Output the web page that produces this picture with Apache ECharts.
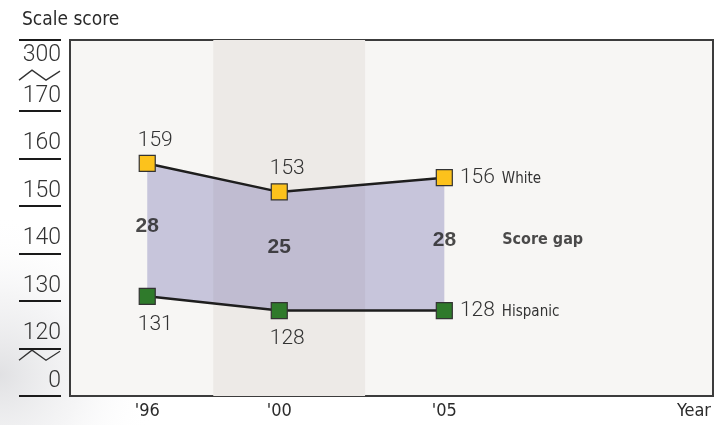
<!DOCTYPE html>
<html>
<head>
<meta charset="utf-8">
<script src="https://cdn.jsdelivr.net/npm/echarts@6/dist/echarts.min.js"></script>
<style>
  html, body { margin: 0; padding: 0; background: #ffffff; }
  #chart { width: 725px; height: 425px; }
</style>
</head>
<body>
<div id="chart"></div>
<script>
// Assessment years and their short tick labels
const years = [1996, 2000, 2005];
const yearLabels = ["'96", "'00", "'05"];

// Average scale scores by group
const white = [159, 153, 156];
const hispanic = [131, 128, 128];
// Score gap between the two groups
const gap = [28, 25, 28];

// Broken vertical scale: bottom and top ticks stand for 0 and 300
const yTickValues = [110, 120, 130, 140, 150, 160, 170, 185];
const yTickLabels = ['0', '120', '130', '140', '150', '160', '170', '300'];

const seriesNames = ['White', 'Hispanic'];
const gapName = 'Score gap';

const NARROW = '"Liberation Sans Narrow", "Arial Narrow", "DejaVu Sans Condensed", sans-serif';
const LIGHT = 'Roboto, "Liberation Sans", sans-serif';
const BOLD = '"Liberation Sans", Arial, sans-serif';
const INK = '#2b2b2b';

const chart = echarts.init(document.getElementById('chart'), null, { renderer: 'canvas' });

const last = years.length - 1;

function pointSeries(name, values, color, side) {
  return {
    name: name,
    type: 'line',
    z: 5,
    data: years.map((x, i) => {
      if (i === last) {
        return {
          value: [x, values[i]],
          label: {
            position: 'right',
            distance: 7,
            offset: [0, 0],
            formatter: '{v|' + values[i] + '}{n|' + name + '}'
          }
        };
      }
      return [x, values[i]];
    }),
    symbol: 'rect',
    symbolSize: 16,
    showAllSymbol: true,
    itemStyle: { color: color, borderColor: '#333333', borderWidth: 1.2 },
    lineStyle: { color: '#1e1e1e', width: 2.5 },
    emphasis: { disabled: true },
    label: {
      show: true,
      position: side,
      distance: side === 'top' ? 4 : 9,
      offset: [8, 0],
      formatter: p => '{v|' + values[p.dataIndex] + '}',
      rich: {
        v: { fontFamily: LIGHT, fontWeight: 300, fontSize: 21, color: '#333333' },
        n: { fontFamily: NARROW, fontSize: 15, color: '#333333', padding: [3, 0, 0, 7] }
      }
    }
  };
}

const option = {
  animation: false,
  backgroundColor: '#ffffff',
  title: {
    text: 'Scale score',
    left: 17,
    top: 6,
    textStyle: { fontFamily: NARROW, fontSize: 19, fontWeight: 'normal', color: INK }
  },
  grid: {
    left: 70, right: 12, top: 40, bottom: 29,
    show: true,
    backgroundColor: '#f7f6f4',
    borderColor: '#3c3c3c',
    borderWidth: 2
  },
  xAxis: {
    type: 'value',
    min: 1993.66,
    max: 2013.14,
    axisLine: { show: false },
    axisTick: { show: false },
    splitLine: { show: false },
    axisLabel: {
      customValues: years,
      margin: 6,
      formatter: v => yearLabels[years.indexOf(v)],
      fontFamily: NARROW, fontSize: 18, color: INK
    },
    name: 'Year',
    nameLocation: 'end',
    nameGap: -2,
    nameTextStyle: {
      fontFamily: NARROW, fontSize: 18, color: INK,
      align: 'right', verticalAlign: 'top', padding: [6, 0, 0, 0]
    }
  },
  yAxis: {
    type: 'value',
    min: 110,
    max: 185,
    offset: 9,
    axisLine: { show: false },
    splitLine: { show: false },
    axisTick: {
      show: true,
      customValues: yTickValues,
      length: 42,
      lineStyle: { color: '#1a1a1a', width: 2 }
    },
    axisLabel: {
      customValues: yTickValues,
      margin: 0,
      verticalAlign: 'middle',
      formatter: v => {
        const i = yTickValues.indexOf(v);
        if (i < 0) return '';
        const style = i === yTickValues.length - 1 ? 't' : 'n';
        return '{' + style + '|' + yTickLabels[i] + '}';
      },
      rich: {
        n: { fontFamily: LIGHT, fontWeight: 300, fontSize: 23, color: '#333333', padding: [0, 0, 30, 0] },
        t: { fontFamily: LIGHT, fontWeight: 300, fontSize: 23, color: '#333333', padding: [31, 0, 0, 0] }
      }
    }
  },
  series: [
    {
      // carries the shaded period behind everything else
      type: 'line',
      data: years.map((x, i) => [x, hispanic[i]]),
      symbol: 'none',
      lineStyle: { opacity: 0 },
      silent: true,
      z: 1,
      markArea: {
        silent: true,
        itemStyle: { color: '#edeae7' },
        data: [[{ xAxis: 1998 }, { xAxis: 2002.6 }]]
      }
    },
    {
      // band between the two score lines
      name: gapName,
      type: 'custom',
      silent: true,
      z: 2,
      data: years.map((x, i) => [x, hispanic[i], white[i]]),
      encode: { x: 0, y: [1, 2] },
      renderItem: (params, api) => {
        if (params.dataIndex !== 0) return null;
        const upper = years.map((x, i) => api.coord([x, white[i]]));
        const lower = years.map((x, i) => api.coord([x, hispanic[i]])).reverse();
        return {
          type: 'polygon',
          shape: { points: upper.concat(lower) },
          style: { fill: 'rgba(72, 66, 150, 0.27)' }
        };
      }
    },
    pointSeries(seriesNames[0], white, '#fcc21c', 'top'),
    pointSeries(seriesNames[1], hispanic, '#2f7a2b', 'bottom'),
    {
      // gap values written midway between the two lines
      type: 'scatter',
      symbolSize: 0,
      silent: true,
      z: 6,
      data: years.map((x, i) => {
        const item = { value: [x, (white[i] + hispanic[i]) / 2] };
        if (i === last) {
          item.label = {
            align: 'left',
            offset: [-11.5, -4],
            formatter: '{g|' + gap[i] + '}{s|' + gapName + '}'
          };
        }
        return item;
      }),
      label: {
        show: true,
        position: 'inside',
        offset: [0, -4],
        formatter: p => '{g|' + gap[p.dataIndex] + '}',
        rich: {
          g: { fontFamily: BOLD, fontWeight: 'bold', fontSize: 21, color: '#1e1e1e' },
          s: { fontFamily: NARROW, fontWeight: 'bold', fontSize: 16, color: '#1e1e1e', padding: [0, 0, 0, 46] }
        }
      }
    }
  ]
};

chart.setOption(option);

// Haze behind the left margin and the break marks on the vertical scale
const breakValues = [177.6, 118.6];
const breaks = breakValues.map(v => {
  const y = chart.convertToPixel({ yAxisIndex: 0 }, v);
  return {
    type: 'polyline',
    silent: true,
    shape: { points: [[19, y + 5], [32, y - 5], [46, y + 5], [60, y - 4]] },
    style: { stroke: '#333333', lineWidth: 1.3, fill: null }
  };
});

chart.setOption({
  graphic: {
    elements: [
      {
        type: 'rect',
        silent: true,
        z: -10,
        shape: { x: 0, y: 90, width: 160, height: 335 },
        style: {
          fill: {
            type: 'radial', x: 0, y: 0.85, r: 1,
            colorStops: [
              { offset: 0, color: 'rgba(175, 176, 182, 0.38)' },
              { offset: 0.5, color: 'rgba(205, 205, 210, 0.2)' },
              { offset: 1, color: 'rgba(255, 255, 255, 0)' }
            ]
          }
        }
      }
    ].concat(breaks)
  }
});
</script>
</body>
</html>
